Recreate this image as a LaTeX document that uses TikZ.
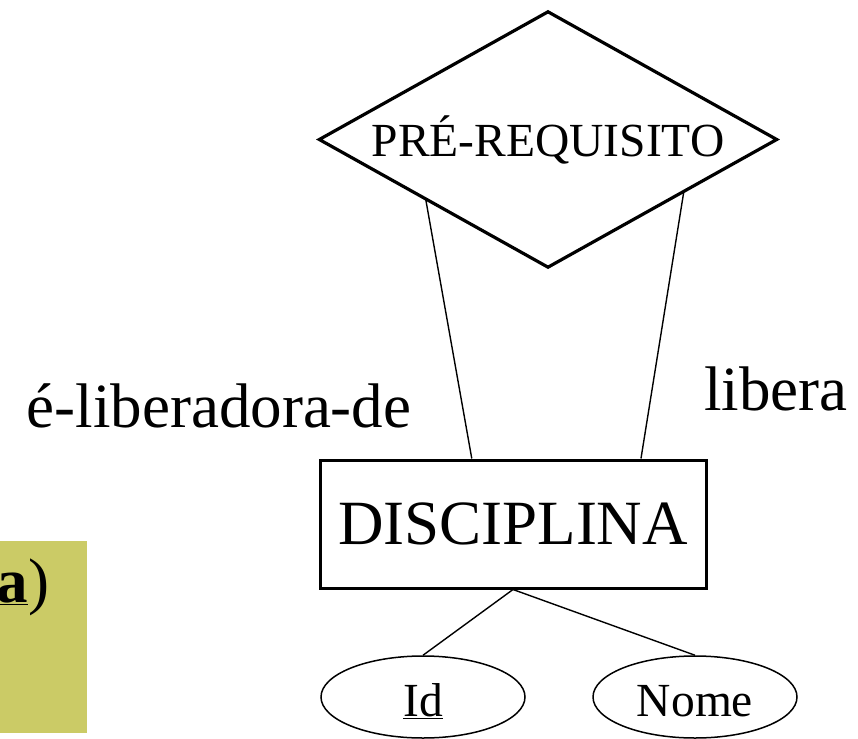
\documentclass[tikz,border=0pt]{standalone}
\usepackage{fontspec}
\setmainfont{Liberation Serif}
\usetikzlibrary{calc,shapes.geometric}
\tikzset{
  rel/.style={rectangle, minimum width=457pt, minimum height=255pt, inner sep=0pt, font=\fontsize{47.5}{50}\selectfont},
  relborder/.style={line width=3.2pt, line join=miter},
  ent/.style={draw, line width=3pt, rectangle, minimum width=386pt, minimum height=128pt, inner sep=0pt, font=\fontsize{63}{70}\selectfont},
  attr/.style={draw, line width=1.5pt, ellipse, minimum width=204pt, minimum height=82pt, inner sep=0pt},
  attrtxt/.style={anchor=base, inner sep=0pt, font=\fontsize{47.5}{50}\selectfont},
  role/.style={anchor=base, inner sep=0pt, font=\fontsize{63}{70}\selectfont},
  conn/.style={line width=1.4pt}
}
\definecolor{boxyellow}{RGB}{203,203,102}
\begin{document}
\begin{tikzpicture}[x=1pt,y=-1pt]
\useasboundingbox (0,0) rectangle (858,738);
\fill[boxyellow] (0,541) rectangle (87,733);
\node[anchor=base west, inner sep=0pt, font=\fontsize{63}{70}\selectfont] (tag) at (-3.5,602) {\textbf{\underline{a}})};
\node[rel] (d) at (548,139.5) {PRÉ-REQUISITO};
\draw[relborder] (d.north) -- (d.east) -- (d.south) -- (d.west) -- cycle;
\node[ent] (r) at (513,524) {DISCIPLINA};
\node[attr] (id) at (423,697) {};
\node[attr] (nome) at (695,697) {};
\node[attrtxt] (idt) at (423,716) {\underline{Id}};
\node[attrtxt] (nomet) at (695,716) {Nome};
\node[role] (l1) at (219,427) {é-liberadora-de};
\node[role] (l2) at (776,410) {libera};
\coordinate (dl) at ($(d.west)!0.465!(d.south)$);
\coordinate (dr) at ($(d.east)!0.406!(d.south)$);
\coordinate (rl) at ($(r.north west)!0.394!(r.north east)$);
\coordinate (rr) at ($(r.north west)!0.829!(r.north east)$);
\draw[conn] (dl) -- (rl);
\draw[conn] (dr) -- (rr);
\draw[conn] (r.south) -- (id.north);
\draw[conn] (r.south) -- (nome.north);
\end{tikzpicture}
\end{document}
